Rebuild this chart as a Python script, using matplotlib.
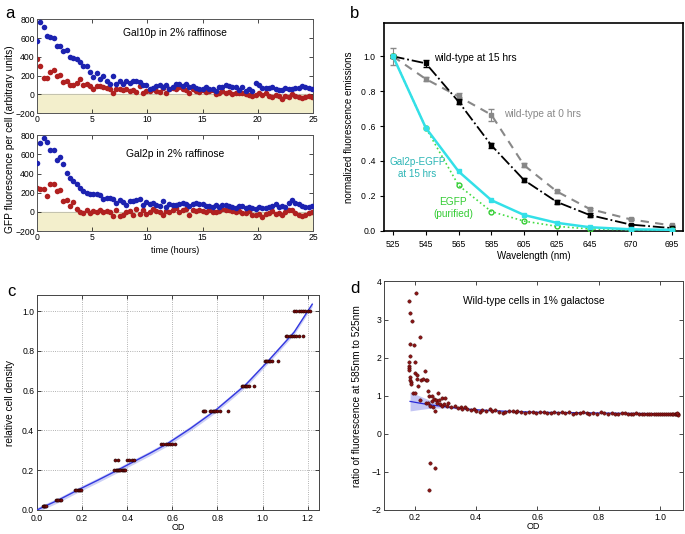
import matplotlib
matplotlib.use("Agg")
import matplotlib.pyplot as plt
import numpy as np

plt.rcParams['font.family'] = ['Liberation Sans', 'DejaVu Sans']

# ---- panel a: GFP fluorescence time courses (84 samples, every 0.3 h)
sample_interval_h = 0.3
gal10_blue = [570, 770, 715, 625, 615, 605, 515, 515, 465, 470,
              395, 390, 375, 345, 305, 305, 235, 185, 225, 160,
              200, 145, 115, 200, 110, 145, 110, 145, 120, 140,
              145, 135, 100, 100, 60, 70, 90, 100, 80, 100,
              55, 75, 110, 110, 90, 110, 80, 90, 70, 60,
              55, 75, 60, 55, 40, 80, 75, 100, 85, 80,
              80, 45, 75, 35, 60, 40, 120, 95, 70, 65,
              65, 75, 60, 50, 45, 65, 60, 60, 70, 65,
              90, 80, 70, 60]
gal10_red = [380, 300, 175, 170, 235, 265, 200, 210, 135, 145,
             95, 95, 120, 160, 100, 110, 90, 60, 90, 85,
             75, 65, 60, 20, 55, 60, 45, 60, 40, 50,
             25, 90, 20, 40, 35, 60, 40, 30, 65, 10,
             55, 70, 60, 75, 60, 50, 20, 55, 40, 30,
             50, 25, 40, 50, 5, 15, 40, 20, 30, 5,
             15, 10, 20, 5, -10, -20, -10, 20, -10, 10,
             -15, -30, -10, -20, -50, -20, -30, 5, -20, -30,
             -35, -30, -20, -25]
gal2_blue = [510, 720, 770, 730, 645, 645, 545, 575, 495, 405,
             350, 320, 290, 250, 215, 195, 190, 185, 185, 175,
             140, 145, 150, 135, 90, 120, 105, 75, 110, 110,
             120, 140, 75, 105, 80, 90, 70, 60, 110, 50,
             80, 70, 75, 80, 90, 85, 65, 85, 90, 85,
             80, 65, 60, 55, 70, 55, 75, 70, 65, 55,
             45, 60, 60, 45, 50, 40, 35, 50, 45, 40,
             50, 60, 85, 55, 65, 50, 90, 120, 90, 80,
             60, 55, 50, 65]
gal2_red = [245, 235, 235, 170, 295, 290, 215, 230, 115, 125,
            60, 100, 35, 0, -15, 20, -15, 15, 0, 25,
            -5, 10, 0, -40, 25, -40, -35, 0, 15, -35,
            30, -20, 20, -20, -5, 30, 10, -5, -35, 10,
            0, 25, 40, 5, 20, 30, -30, 20, 10, 20,
            10, 5, 20, 5, 5, 15, 30, 25, 25, 15,
            0, 10, -15, -10, 10, -35, -30, -20, -50, -20,
            -10, 10, -20, -10, -30, 0, 25, 20, -10, -35,
            -40, -35, -10, -5]

# ---- panel b: emission spectra
wavelengths = [525, 545, 565, 585, 605, 625, 645, 670, 695]
wt15 = [1.0, 0.96, 0.74, 0.49, 0.29, 0.165, 0.09, 0.035, 0.015]
wt15_err = [0.01, 0.02, 0.015, 0.015, 0.01, 0.01, 0.01, 0.005, 0.005]
wt0 = [1.0, 0.87, 0.77, 0.665, 0.375, 0.225, 0.125, 0.065, 0.03]
wt0_err = [0.05, 0.01, 0.02, 0.035, 0.012, 0.01, 0.008, 0.006, 0.005]
gal2_egfp = [1.0, 0.59, 0.34, 0.175, 0.09, 0.045, 0.02, 0.008, 0.005]
egfp = [1.0, 0.59, 0.26, 0.11, 0.055, 0.025, 0.01, 0.005, 0.003]

# ---- panel c: relative cell density vs OD
c_levels = [0.02, 0.05, 0.10, 0.20, 0.25, 0.333, 0.50, 0.625, 0.75, 0.875, 1.0]
c_od = [[0.025, 0.03, 0.033, 0.036, 0.04],
        [0.085, 0.09, 0.095, 0.1, 0.105],
        [0.17, 0.175, 0.18, 0.185, 0.19, 0.195],
        [0.34, 0.35, 0.355, 0.36, 0.365, 0.37, 0.375, 0.38, 0.385, 0.39],
        [0.345, 0.36, 0.40, 0.41, 0.42, 0.43],
        [0.55, 0.56, 0.57, 0.58, 0.59, 0.60, 0.61],
        [0.735, 0.74, 0.745, 0.765, 0.77, 0.78, 0.785, 0.79, 0.80, 0.81, 0.845],
        [0.91, 0.915, 0.92, 0.925, 0.93, 0.94, 0.96],
        [1.01, 1.015, 1.02, 1.03, 1.035, 1.04, 1.07],
        [1.105, 1.11, 1.12, 1.13, 1.14, 1.15, 1.16, 1.18],
        [1.14, 1.15, 1.16, 1.17, 1.18, 1.19, 1.20, 1.21]]
c_fit_x = [0, 0.033, 0.095, 0.18, 0.27, 0.365, 0.415, 0.5, 0.58, 0.68, 0.79, 0.925, 1.025, 1.14, 1.22]
c_fit_y = [0, 0.018, 0.05, 0.1, 0.15, 0.205, 0.235, 0.285, 0.335, 0.41, 0.5, 0.63, 0.75, 0.895, 1.035]

# ---- panel d: 585/525 ratio vs OD
d_x = [0.180, 0.184, 0.205, 0.191, 0.186, 0.197, 0.216, 0.184, 0.183, 0.182,
       0.181, 0.182, 0.200, 0.184, 0.185, 0.187, 0.188, 0.200, 0.209, 0.208,
       0.210, 0.193, 0.200, 0.222, 0.228, 0.233, 0.236, 0.240, 0.218, 0.238,
       0.245, 0.248, 0.255, 0.258, 0.262, 0.266, 0.268, 0.272, 0.275, 0.278,
       0.283, 0.288, 0.290, 0.295, 0.300, 0.305, 0.310, 0.320, 0.330, 0.340,
       0.350, 0.245, 0.250, 0.260, 0.251, 0.266, 0.246,
       0.355, 0.365, 0.372, 0.383, 0.392, 0.400, 0.412, 0.420, 0.433, 0.445,
       0.452, 0.463, 0.475, 0.487, 0.495, 0.508, 0.520, 0.530, 0.535, 0.548,
       0.560, 0.572, 0.585, 0.597, 0.610, 0.622, 0.633, 0.645, 0.655, 0.667,
       0.680, 0.690, 0.702, 0.715, 0.727, 0.738, 0.750, 0.762, 0.770, 0.782,
       0.795, 0.806, 0.818, 0.830, 0.842, 0.853, 0.864, 0.875, 0.885, 0.895,
       0.905, 0.913, 0.922, 0.930, 0.940, 0.948, 0.956, 0.965, 0.972, 0.980,
       0.987, 0.994, 1.000, 1.007, 1.013, 1.020, 1.026, 1.032, 1.038, 1.043,
       1.048, 1.052, 1.056, 1.060, 1.058, 1.054]
d_y = [3.48, 3.17, 3.70, 2.97, 2.37, 2.33, 2.54, 2.04, 1.88, 1.78,
       1.72, 1.68, 1.89, 1.48, 1.42, 1.36, 1.30, 1.60, 1.55, 1.45,
       1.26, 1.07, 1.08, 1.40, 1.45, 1.65, 1.42, 1.42, 0.90, 0.80,
       1.12, 0.99, 1.00, 0.85, 0.92, 0.60, 0.88, 0.82, 1.08, 0.90,
       0.78, 0.72, 0.94, 0.78, 0.94, 0.72, 0.80, 0.70, 0.72, 0.67,
       0.70, 0.80, 0.72, 0.70, -0.78, -0.90, -1.47,
       0.66, 0.70, 0.64, 0.62, 0.66, 0.60, 0.58, 0.63, 0.61, 0.64,
       0.60, 0.62, 0.57, 0.55, 0.58, 0.61, 0.59, 0.56, 0.60, 0.57,
       0.55, 0.58, 0.56, 0.54, 0.57, 0.57, 0.55, 0.54, 0.56, 0.55,
       0.57, 0.54, 0.56, 0.53, 0.55, 0.54, 0.56, 0.55, 0.53, 0.55,
       0.52, 0.56, 0.54, 0.53, 0.55, 0.53, 0.52, 0.54, 0.55, 0.52,
       0.53, 0.52, 0.54, 0.51, 0.53, 0.52, 0.53, 0.51, 0.52, 0.53,
       0.51, 0.52, 0.53, 0.52, 0.51, 0.52, 0.53, 0.52, 0.51, 0.52,
       0.53, 0.51, 0.52, 0.53, 0.50, 0.54]
d_fit_x = [0.185, 0.22, 0.25, 0.3, 0.35, 0.4, 0.5, 0.6, 0.7, 0.8, 0.9, 1.0, 1.06]
d_fit_y = [0.85, 0.80, 0.76, 0.71, 0.665, 0.63, 0.59, 0.565, 0.555, 0.545, 0.535, 0.528, 0.525]
d_fit_lo = [0.60, 0.64, 0.67, 0.68, 0.645, 0.615, 0.58, 0.558, 0.548, 0.538, 0.528, 0.52, 0.515]
d_fit_hi = [1.10, 0.98, 0.88, 0.75, 0.685, 0.645, 0.60, 0.572, 0.562, 0.552, 0.542, 0.536, 0.535]

BLUE = '#1c22b0'
RED = '#b02020'
TICK = 6.2
fig = plt.figure(figsize=(6.85, 5.34), dpi=100)

# panel a
t = np.arange(len(gal10_blue)) * sample_interval_h
ax_a1 = fig.add_axes([0.054, 0.788, 0.403, 0.176])
ax_a2 = fig.add_axes([0.054, 0.567, 0.403, 0.180])
for ax, blue, red, title, ty in [(ax_a1, gal10_blue, gal10_red, 'Gal10p in 2% raffinose', 0.85),
                                 (ax_a2, gal2_blue, gal2_red, 'Gal2p in 2% raffinose', 0.80)]:
    ax.axhspan(-200, 0, color='#f3efcc', zorder=0)
    ax.axhline(0, color='#bbbbaa', lw=0.6, zorder=1)
    ax.scatter(t, red, s=16, color=RED, lw=0, zorder=2)
    ax.scatter(t, blue, s=16, color=BLUE, lw=0, zorder=3)
    ax.set_xlim(0, 25)
    ax.set_ylim(-200, 800)
    ax.set_yticks([-200, 0, 200, 400, 600, 800])
    ax.set_xticks([0, 5, 10, 15, 20, 25])
    ax.tick_params(direction='in', top=True, right=True, labelsize=TICK, length=3, pad=1.5, width=0.5)
    for sp in ax.spines.values():
        sp.set_color('#555555')
        sp.set_linewidth(0.7)
    ax.text(0.5, ty, title, transform=ax.transAxes, ha='center', va='center', fontsize=7.4)
ax_a2.set_xlabel('time (hours)', fontsize=6.5, labelpad=3)
fig.text(0.014, 0.74, 'GFP fluorescence per cell (arbitrary units)', rotation=90,
         ha='center', va='center', fontsize=7.3)

# panel b
ax_b = fig.add_axes([0.5606, 0.567, 0.4365, 0.3895])
ax_b.errorbar(wavelengths, wt0, yerr=wt0_err, color='#888888', ls='--', lw=1.5, marker='s',
              ms=3.5, capsize=2.5, elinewidth=0.8, dashes=(4, 3), zorder=2)
ax_b.errorbar(wavelengths, wt15, yerr=wt15_err, color='black', ls='-.', lw=1.3, marker='s',
              ms=3.5, capsize=2.5, elinewidth=0.8, zorder=3)
ax_b.plot(wavelengths, egfp, color='#44dd44', ls=':', lw=1.2, marker='o', ms=3.5,
          mfc='none', mec='#33cc33', mew=1, zorder=4)
ax_b.plot(wavelengths, gal2_egfp, color='#33e0e8', ls='-', lw=1.8, marker='s', ms=3.5, zorder=5)
ax_b.set_xlim(519.5, 702)
ax_b.set_ylim(-0.003, 1.19)
ax_b.set_xticks(wavelengths)
ax_b.set_yticks([0, 0.2, 0.4, 0.6, 0.8, 1.0])
ax_b.set_yticklabels(['0.0', '0 .2', '0 .4', '0 .6', '0 .8', '1.0'])
ax_b.tick_params(direction='out', labelsize=TICK, length=3, width=0.8, pad=3)
for sp in ax_b.spines.values():
    sp.set_linewidth(1.2)
ax_b.set_xlabel('Wavelength (nm)', fontsize=7, labelpad=2)
ax_b.set_ylabel('normalized fluorescence emissions', fontsize=7, labelpad=5)
ax_b.text(550, 0.99, 'wild-type at 15 hrs', fontsize=7.3, va='center', ha='left')
ax_b.text(593, 0.67, 'wild-type at 0 hrs', fontsize=7.3, va='center', ha='left', color='#888888')
ax_b.text(540, 0.36, 'Gal2p-EGFP\nat 15 hrs', fontsize=7.1, va='center', ha='center', color='#2ab5b5',
          linespacing=1.2)
ax_b.text(561.5, 0.13, 'EGFP\n(purified)', fontsize=7.3, va='center', ha='center', color='#33cc33',
          linespacing=1.2)

# panel c
ax_c = fig.add_axes([0.054, 0.045, 0.4117, 0.402])
ax_c.grid(True, ls=':', color='#999999', lw=0.6)
ax_c.fill_between(c_fit_x, np.array(c_fit_y) - 0.012, np.array(c_fit_y) + 0.012,
                  color='#aab0f0', alpha=0.6, lw=0, zorder=2)
ax_c.plot(c_fit_x, c_fit_y, color='#3338e0', lw=1.0, zorder=3)
for lev, xs in zip(c_levels, c_od):
    ax_c.scatter(xs, [lev] * len(xs), s=5, color='#7a0a0a', edgecolor='#220000', lw=0.4, zorder=4)
ax_c.set_xlim(0, 1.25)
ax_c.set_ylim(0, 1.08)
ax_c.set_xticks([0, 0.2, 0.4, 0.6, 0.8, 1.0, 1.2])
ax_c.set_yticks([0, 0.2, 0.4, 0.6, 0.8, 1.0])
ax_c.tick_params(direction='in', top=True, right=True, labelsize=TICK, length=3, pad=2, width=0.5)
ax_c.tick_params(axis='x', pad=3)
for sp in ax_c.spines.values():
    sp.set_color('#444444')
    sp.set_linewidth(0.7)
ax_c.set_xlabel('OD', fontsize=6.5, labelpad=0)
ax_c.set_ylabel('relative cell density', fontsize=7.3, labelpad=5)

# panel d
ax_d = fig.add_axes([0.5606, 0.045, 0.4365, 0.428])
ax_d.fill_between(d_fit_x, d_fit_lo, d_fit_hi, color='#c4c6f4', lw=0, zorder=1)
ax_d.plot(d_fit_x, d_fit_y, color='#2a2ad8', lw=0.9, zorder=2)
ax_d.scatter(d_x, d_y, s=6, color='#8a1515', edgecolor='#400000', lw=0.3, zorder=3)
ax_d.set_xlim(0.1, 1.075)
ax_d.set_ylim(-2, 4)
ax_d.set_xticks([0.2, 0.4, 0.6, 0.8, 1.0])
ax_d.set_yticks([-2, -1, 0, 1, 2, 3, 4])
ax_d.tick_params(direction='in', top=True, right=True, labelsize=TICK, length=3, pad=2, width=0.5)
for sp in ax_d.spines.values():
    sp.set_color('#444444')
    sp.set_linewidth(0.7)
ax_d.set_xlabel('OD', fontsize=6.5, labelpad=0)
ax_d.set_ylabel('ratio of fluorescence at 585nm to 525nm', fontsize=7.3, labelpad=7)
ax_d.text(0.5, 0.915, 'Wild-type cells in 1% galactose', transform=ax_d.transAxes,
          ha='center', va='center', fontsize=7.4)

# panel letters
for x, y, s in [(0.007, 0.975, 'a'), (0.511, 0.975, 'b'), (0.010, 0.455, 'c'), (0.511, 0.46, 'd')]:
    fig.text(x, y, s, fontsize=12, ha='left', va='center')

fig.savefig('out.png', dpi=100)
